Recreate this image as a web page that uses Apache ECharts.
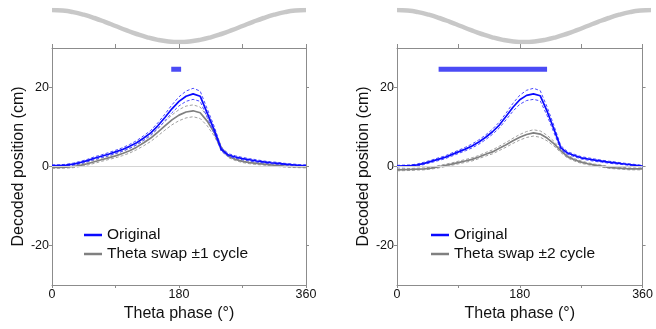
<!DOCTYPE html>
<html>
<head>
<meta charset="utf-8">
<script src="https://cdn.jsdelivr.net/npm/echarts@6/dist/echarts.min.js"></script>
<style>
  html, body { margin: 0; padding: 0; background: #fff; }
  #chart { width: 656px; height: 329px; }
</style>
</head>
<body>
<div id="chart"></div>
<script>
// theta phase bins (deg)
const phase = [0, 10, 20, 30, 40, 50, 60, 70, 80, 90, 100, 110, 120, 130, 140, 150, 160, 170, 180,
  190, 200, 210, 220, 230, 240, 250, 260, 270, 280, 290, 300, 310, 320, 330, 340, 350, 360];

// left panel: original vs theta swap ±1 cycle
const origL = [0.2, 0.25, 0.35, 0.6, 1.0, 1.5, 2.1, 2.6, 3.1, 3.7, 4.3, 5.1, 6.0, 7.2, 8.5, 10.3, 12.4, 14.6, 16.5,
  17.8, 18.4, 17.8, 13.5, 9.2, 4.3, 2.9, 2.4, 2.0, 1.7, 1.4, 1.15, 0.95, 0.8, 0.6, 0.45, 0.3, 0.2];
const origSemL = [0.2, 0.2, 0.2, 0.25, 0.3, 0.3, 0.35, 0.35, 0.4, 0.4, 0.45, 0.5, 0.55, 0.6, 0.65, 0.75, 0.85, 1.0, 1.15,
  1.3, 1.4, 1.3, 1.1, 0.9, 0.5, 0.35, 0.3, 0.3, 0.3, 0.3, 0.25, 0.25, 0.25, 0.2, 0.2, 0.2, 0.2];
const swapL = [-0.2, -0.2, -0.15, 0.0, 0.3, 0.7, 1.2, 1.7, 2.2, 2.7, 3.3, 4.0, 4.9, 6.0, 7.2, 8.7, 10.3, 11.8, 13.0,
  13.8, 14.1, 13.6, 11.5, 8.6, 4.6, 2.6, 1.8, 1.3, 1.0, 0.8, 0.6, 0.4, 0.25, 0.1, 0.0, -0.05, -0.1];
const swapSemL = [0.25, 0.25, 0.25, 0.3, 0.3, 0.35, 0.4, 0.4, 0.45, 0.5, 0.55, 0.6, 0.65, 0.75, 0.85, 0.95, 1.1, 1.25, 1.4,
  1.5, 1.5, 1.45, 1.2, 0.9, 0.5, 0.35, 0.3, 0.3, 0.3, 0.3, 0.25, 0.25, 0.25, 0.25, 0.25, 0.25, 0.25];

// right panel: original vs theta swap ±2 cycle
const origR = [0.1, 0.15, 0.2, 0.4, 0.8, 1.3, 1.8, 2.3, 3.0, 3.7, 4.4, 5.2, 6.2, 7.4, 8.8, 10.5, 12.7, 15.0, 16.9,
  18.0, 18.4, 17.9, 14.0, 9.5, 4.8, 3.4, 2.8, 2.2, 1.9, 1.6, 1.35, 1.1, 0.9, 0.7, 0.5, 0.3, 0.1];
const origSemR = [0.2, 0.2, 0.2, 0.25, 0.3, 0.3, 0.35, 0.35, 0.4, 0.4, 0.45, 0.5, 0.55, 0.6, 0.65, 0.75, 0.85, 1.0, 1.15,
  1.3, 1.4, 1.3, 1.1, 0.9, 0.5, 0.35, 0.3, 0.3, 0.3, 0.3, 0.25, 0.25, 0.25, 0.2, 0.2, 0.2, 0.2];
const swapR = [-0.85, -0.8, -0.75, -0.65, -0.6, -0.4, -0.1, 0.25, 0.6, 1.0, 1.4, 1.8, 2.4, 3.1, 3.7, 4.6, 5.5, 6.5, 7.4,
  8.1, 8.5, 8.2, 7.2, 5.8, 4.0, 2.5, 1.7, 1.1, 0.7, 0.35, 0.1, -0.2, -0.35, -0.45, -0.6, -0.6, -0.6];
const swapSemR = [0.25, 0.25, 0.25, 0.25, 0.25, 0.25, 0.3, 0.3, 0.3, 0.35, 0.35, 0.4, 0.4, 0.45, 0.5, 0.55, 0.6, 0.65, 0.7,
  0.75, 0.8, 0.8, 0.7, 0.6, 0.45, 0.35, 0.3, 0.3, 0.25, 0.25, 0.25, 0.25, 0.25, 0.25, 0.25, 0.25, 0.25];

// significance bars [start, end] in deg, drawn at sigY
const sigL = [169, 183];
const sigR = [61, 220];
const sigY = 24.6;

// reference theta oscillation drawn above each panel
const wavePhase = [0, 15, 30, 45, 60, 75, 90, 105, 120, 135, 150, 165, 180,
  195, 210, 225, 240, 255, 270, 285, 300, 315, 330, 345, 360];
const wave = [1, 0.966, 0.866, 0.707, 0.5, 0.259, 0, -0.259, -0.5, -0.707, -0.866, -0.966, -1,
  -0.966, -0.866, -0.707, -0.5, -0.259, 0, 0.259, 0.5, 0.707, 0.866, 0.966, 1];

const FONT = 'Liberation Sans, Arial, sans-serif';
const AXIS_COLOR = '#8c8c8c';
const BLUE = '#0a0aff';
const GRAY = '#808080';

const pairs = (xs, ys) => xs.map((x, i) => [x, ys[i]]);
const shifted = (mean, sem, sign) => phase.map((x, i) => [x, +(mean[i] + sign * sem[i]).toFixed(3)]);

const chart = echarts.init(document.getElementById('chart'));

const grids = [
  { left: 52, top: 48, width: 254, height: 237 },
  { left: 397, top: 48, width: 254, height: 237 },
  { left: 52, top: 10, width: 254, height: 32 },
  { left: 397, top: 10, width: 254, height: 32 },
];

const line = { onZero: false, lineStyle: { color: AXIS_COLOR } };
const xAxes = [];
const yAxes = [];
[0, 1].forEach((g) => {
  xAxes.push({
    type: 'value', gridIndex: g, position: 'bottom', min: 0, max: 360, interval: 90,
    name: 'Theta phase (°)', nameLocation: 'middle', nameGap: 20,
    nameTextStyle: { fontFamily: FONT, fontSize: 16, color: '#111' },
    axisLine: line,
    axisTick: { length: 3, lineStyle: { color: AXIS_COLOR } },
    axisLabel: {
      margin: 3, fontFamily: FONT, fontSize: 12.5, color: '#111',
      formatter: (v) => (v % 180 === 0 ? String(v) : ''),
    },
    splitLine: { show: false },
  });
  xAxes.push({
    type: 'value', gridIndex: g, position: 'top', min: 0, max: 360, interval: 90,
    axisLine: line,
    axisTick: { length: 4, lineStyle: { color: AXIS_COLOR } },
    axisLabel: { show: false },
    splitLine: { show: false },
  });
  yAxes.push({
    type: 'value', gridIndex: g, position: 'left', min: -30, max: 30,
    name: 'Decoded position (cm)', nameLocation: 'middle', nameGap: 25,
    nameTextStyle: { fontFamily: FONT, fontSize: 16, color: '#111' },
    axisLine: { show: true, ...line },
    axisTick: { show: true, length: 3, customValues: [-20, 0, 20], lineStyle: { color: AXIS_COLOR } },
    axisLabel: { margin: 3, customValues: [-20, 0, 20], fontFamily: FONT, fontSize: 12.5, color: '#111' },
    splitLine: { show: false },
  });
  yAxes.push({
    type: 'value', gridIndex: g, position: 'right', min: -30, max: 30,
    axisLine: { show: true, ...line },
    axisTick: { show: true, length: 3, customValues: [-20, 0, 20], lineStyle: { color: AXIS_COLOR } },
    axisLabel: { show: false },
    splitLine: { show: false },
  });
});
[2, 3].forEach((g) => {
  xAxes.push({ type: 'value', gridIndex: g, min: 0, max: 360, show: false });
  yAxes.push({ type: 'value', gridIndex: g, min: -1, max: 1, show: false });
});

function panel(k, orig, origSem, swap, swapSem, sig, swapName) {
  const xi = k * 2;
  const yi = k * 2;
  const dashed = (color) => ({ color, width: 1, type: [3, 2] });
  const base = { type: 'line', xAxisIndex: xi, yAxisIndex: yi, showSymbol: false, silent: true };
  return [
    { ...base, name: 'zero', data: [], markLine: {
      silent: true, symbol: 'none', label: { show: false },
      lineStyle: { color: '#d4d4d4', width: 1, type: 'solid' },
      data: [{ yAxis: 0 }],
    } },
    { ...base, name: swapName + ' hi', data: shifted(swap, swapSem, 1), lineStyle: dashed('#a0a0a0') },
    { ...base, name: swapName + ' lo', data: shifted(swap, swapSem, -1), lineStyle: dashed('#a0a0a0') },
    { ...base, name: swapName, data: pairs(phase, swap), itemStyle: { color: GRAY }, lineStyle: { color: GRAY, width: 1.7 } },
    { ...base, name: 'Original hi', data: shifted(orig, origSem, 1), lineStyle: dashed('#4a4aff') },
    { ...base, name: 'Original lo', data: shifted(orig, origSem, -1), lineStyle: dashed('#4a4aff') },
    { ...base, name: 'Original', data: pairs(phase, orig), itemStyle: { color: BLUE }, lineStyle: { color: BLUE, width: 1.7 } },
    { ...base, name: 'sig', data: sig.map((x) => [x, sigY]), lineStyle: { color: '#4b4bf5', width: 5, cap: 'butt' } },
    { type: 'line', xAxisIndex: 4 + k, yAxisIndex: 4 + k, showSymbol: false, silent: true, smooth: true,
      name: 'wave', data: pairs(wavePhase, wave), lineStyle: { color: '#c8c8c8', width: 4.5 } },
  ];
}

const legendBase = {
  orient: 'vertical', top: 222, itemWidth: 18, itemHeight: 2.5, itemGap: 3, icon: 'rect',
  textStyle: { fontFamily: FONT, fontSize: 15.5, color: '#111' },
  selectedMode: false,
};

chart.setOption({
  animation: false,
  grid: grids,
  xAxis: xAxes,
  yAxis: yAxes,
  legend: [
    { ...legendBase, left: 79, data: ['Original', 'Theta swap ±1 cycle'] },
    { ...legendBase, left: 426, data: ['Original', 'Theta swap ±2 cycle'] },
  ],
  series: [
    ...panel(0, origL, origSemL, swapL, swapSemL, sigL, 'Theta swap ±1 cycle'),
    ...panel(1, origR, origSemR, swapR, swapSemR, sigR, 'Theta swap ±2 cycle'),
  ],
});
</script>
</body>
</html>
